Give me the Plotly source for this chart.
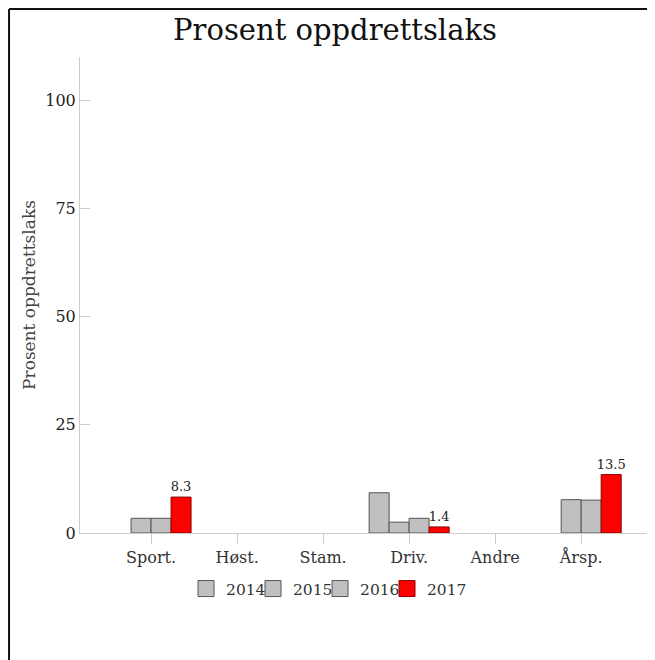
import plotly.graph_objects as go

categories = ["Sport.", "Høst.", "Stam.", "Driv.", "Andre", "Årsp."]
years = ["2014", "2015", "2016", "2017"]
v2014 = [None, None, None, 9.3, None, None]
v2015 = [3.4, None, None, 2.5, None, 7.7]
v2016 = [3.4, None, None, 3.4, None, 7.6]
v2017 = [8.3, None, None, 1.4, None, 13.5]
series = [v2014, v2015, v2016, v2017]
colors = ["#c0c0c0", "#c0c0c0", "#c0c0c0", "#ff0000"]
line_colors = ["#555555", "#555555", "#555555", "#8a0000"]
legend_ids = ["legend", "legend2", "legend3", "legend4"]
legend_x = [0.1860, 0.3035, 0.4211, 0.5386]

FONT = "DejaVu Serif"

fig = go.Figure()
for yr, vals, c, lc, lid in zip(years, series, colors, line_colors, legend_ids):
    is_last = yr == "2017"
    fig.add_trace(go.Bar(
        x=categories, y=vals, name=yr,
        marker=dict(color=c, line=dict(color=lc, width=1)),
        text=[("%.1f" % v if v is not None else "") for v in vals] if is_last else None,
        textposition="outside" if is_last else None,
        textfont=dict(size=13, color="#222222", family=FONT),
        constraintext="none",
        cliponaxis=False,
        showlegend=False,
    ))
    # legend proxy with larger square swatch
    fig.add_trace(go.Scatter(
        x=[None], y=[None], mode="markers", name=yr, legend=lid,
        marker=dict(symbol="square", size=16, color=c, line=dict(color=lc, width=1)),
        showlegend=True,
    ))

legend_common = dict(orientation="h", xanchor="left", y=-0.1176, yanchor="middle",
                     itemsizing="trace", font=dict(size=15.5, family=FONT, color="#333333"),
                     bgcolor="rgba(0,0,0,0)")

fig.update_layout(
    width=647, height=652,
    paper_bgcolor="white", plot_bgcolor="white",
    font=dict(family=FONT, color="#222222", size=16),
    title=dict(text="Prosent oppdrettslaks", x=327 / 647, xanchor="center", y=1 - 22 / 652, yanchor="middle",
               font=dict(size=29, family=FONT, color="#111111")),
    margin=dict(l=72, r=5, t=49, b=127),
    barmode="group", bargap=0.07, bargroupgap=0,
    xaxis=dict(
        range=[-0.826, 5.8], showline=True, linecolor="#cccccc", linewidth=1,
        ticks="outside", ticklen=10, tickcolor="#cccccc", showgrid=False,
        tickfont=dict(size=16, family=FONT, color="#333333"), zeroline=False,
    ),
    yaxis=dict(
        range=[0, 110], showline=True, linecolor="#cccccc", linewidth=1,
        ticks="inside", ticklen=10, tickcolor="#cccccc", showgrid=False,
        tickvals=[0, 25, 50, 75, 100], tickfont=dict(size=16, family=FONT, color="#222222"),
        zeroline=False,
        title=dict(text="Prosent oppdrettslaks", font=dict(size=17, family=FONT, color="#444444"), standoff=5),
    ),
    legend=dict(x=legend_x[0], **legend_common),
    legend2=dict(x=legend_x[1], **legend_common),
    legend3=dict(x=legend_x[2], **legend_common),
    legend4=dict(x=legend_x[3], **legend_common),
    shapes=[
        dict(type="line", xref="paper", yref="paper", x0=-0.1245, x1=-0.1245, y0=-0.3, y1=1.1007,
             line=dict(color="#111111", width=2)),
        dict(type="line", xref="paper", yref="paper", x0=-0.1245, x1=1.0088, y0=1.1007, y1=1.1007,
             line=dict(color="#111111", width=2)),
    ],
)

fig.write_html("out.html")
